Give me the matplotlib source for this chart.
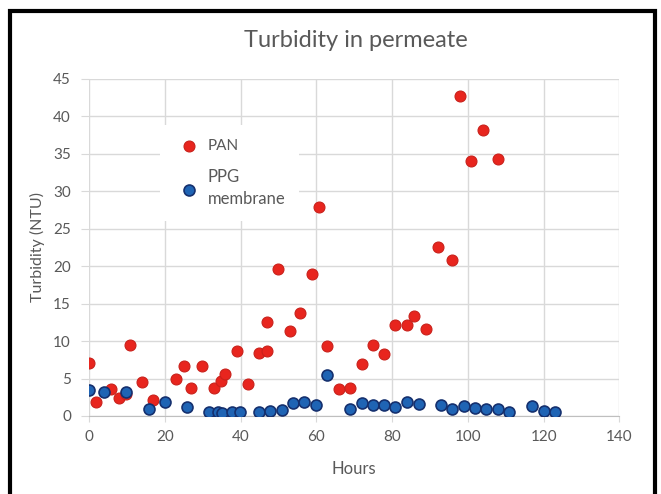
import matplotlib.pyplot as plt
from matplotlib.patches import Rectangle

plt.rcParams['font.family'] = ['Lato', 'DejaVu Sans']

# PAN membrane (red)
pan_hours = [0, 1.9, 5.8, 8.0, 9.9, 10.8, 13.9, 17, 22.9, 25.1, 26.9, 29.9, 33, 34.9,
             35.8, 39, 42, 44.9, 46.9, 46.9, 49.9, 53, 55.8, 58.8, 60.8, 62.9, 66,
             68.9, 72, 75, 77.8, 80.8, 84, 85.8, 88.9, 92, 95.9, 97.9, 100.8, 103.9, 108]
pan_ntu = [7.1, 1.9, 3.6, 2.4, 3.0, 9.5, 4.6, 2.1, 5.0, 6.7, 3.7, 6.7, 3.8, 4.7,
           5.6, 8.7, 4.3, 8.4, 8.7, 12.5, 19.6, 11.3, 13.8, 19.0, 27.9, 9.4, 3.6,
           3.7, 6.9, 9.5, 8.3, 12.2, 12.1, 13.3, 11.6, 22.5, 20.8, 42.7, 34.1, 38.2, 34.3]

# PPG membrane (blue)
ppg_hours = [0, 4, 9.9, 15.9, 20, 25.8, 31.7, 34, 35, 37.8, 39.9, 45, 47.9, 50.9,
             53.9, 56.8, 59.9, 62.9, 68.9, 72, 75, 77.8, 80.8, 84, 87, 92.9, 95.9,
             98.9, 101.9, 104.9, 107.9, 110.8, 117, 120, 122.9]
ppg_ntu = [3.45, 3.25, 3.2, 1.0, 1.9, 1.15, 0.6, 0.6, 0.45, 0.6, 0.6, 0.6, 0.67, 0.8,
           1.7, 1.85, 1.5, 5.45, 0.95, 1.7, 1.5, 1.5, 1.25, 1.85, 1.55, 1.5, 0.9,
           1.4, 1.1, 1.0, 1.0, 0.57, 1.4, 0.7, 0.57]

text_gray = '#595959'
grid_gray = '#d9d9d9'

fig = plt.figure(figsize=(6.61, 4.94), dpi=100)
ax = fig.add_axes([0.1346, 0.1579, 0.8026, 0.6822])

ax.scatter(pan_hours, pan_ntu, s=62, color='#e8251e', edgecolors='#c9211b',
           linewidths=0.8, label='PAN', zorder=3)
ax.scatter(ppg_hours, ppg_ntu, s=62, color='#1f64b4', edgecolors='#15306e',
           linewidths=1.2, label='PPG\nmembrane', zorder=4)

ax.set_xlim(0, 140)
ax.set_ylim(0, 45)
ax.set_xticks(range(0, 141, 20))
ax.set_yticks(range(0, 46, 5))
ax.grid(True, color=grid_gray, linewidth=1)
ax.set_axisbelow(True)
for side in ['top', 'right', 'left']:
    ax.spines[side].set_visible(False)
ax.spines['bottom'].set_color('#bfbfbf')
ax.tick_params(axis='x', colors=grid_gray, labelcolor=text_gray, labelsize=11,
               length=4, pad=6)
ax.tick_params(axis='y', colors=grid_gray, labelcolor=text_gray, labelsize=11,
               length=6, pad=7)

ax.set_xlabel('Hours', color=text_gray, fontsize=12, labelpad=12)
ax.set_ylabel('Turbidity (NTU)', color=text_gray, fontsize=11.5, labelpad=6)
fig.text(0.539, 0.918, 'Turbidity in permeate', color=text_gray, fontsize=17,
         ha='center', va='center')

leg = ax.legend(loc='upper left', bbox_to_anchor=(0.134, 0.862), frameon=True,
                facecolor='white', edgecolor='none', framealpha=1, fontsize=11,
                labelspacing=1.0, handletextpad=0.2, borderpad=0.9, borderaxespad=0)
for t in leg.get_texts():
    t.set_color(text_gray)
leg.get_texts()[1].set_fontsize(12)
leg.get_texts()[1].set_linespacing(1.5)

# black frame around the picture, bottom edge outside the image
fig.add_artist(Rectangle((10 / 661, -0.05), 645 / 661, 1.05 - 11 / 494,
                         transform=fig.transFigure, fill=False,
                         edgecolor='black', linewidth=3))

fig.savefig('out.png', dpi=100)
